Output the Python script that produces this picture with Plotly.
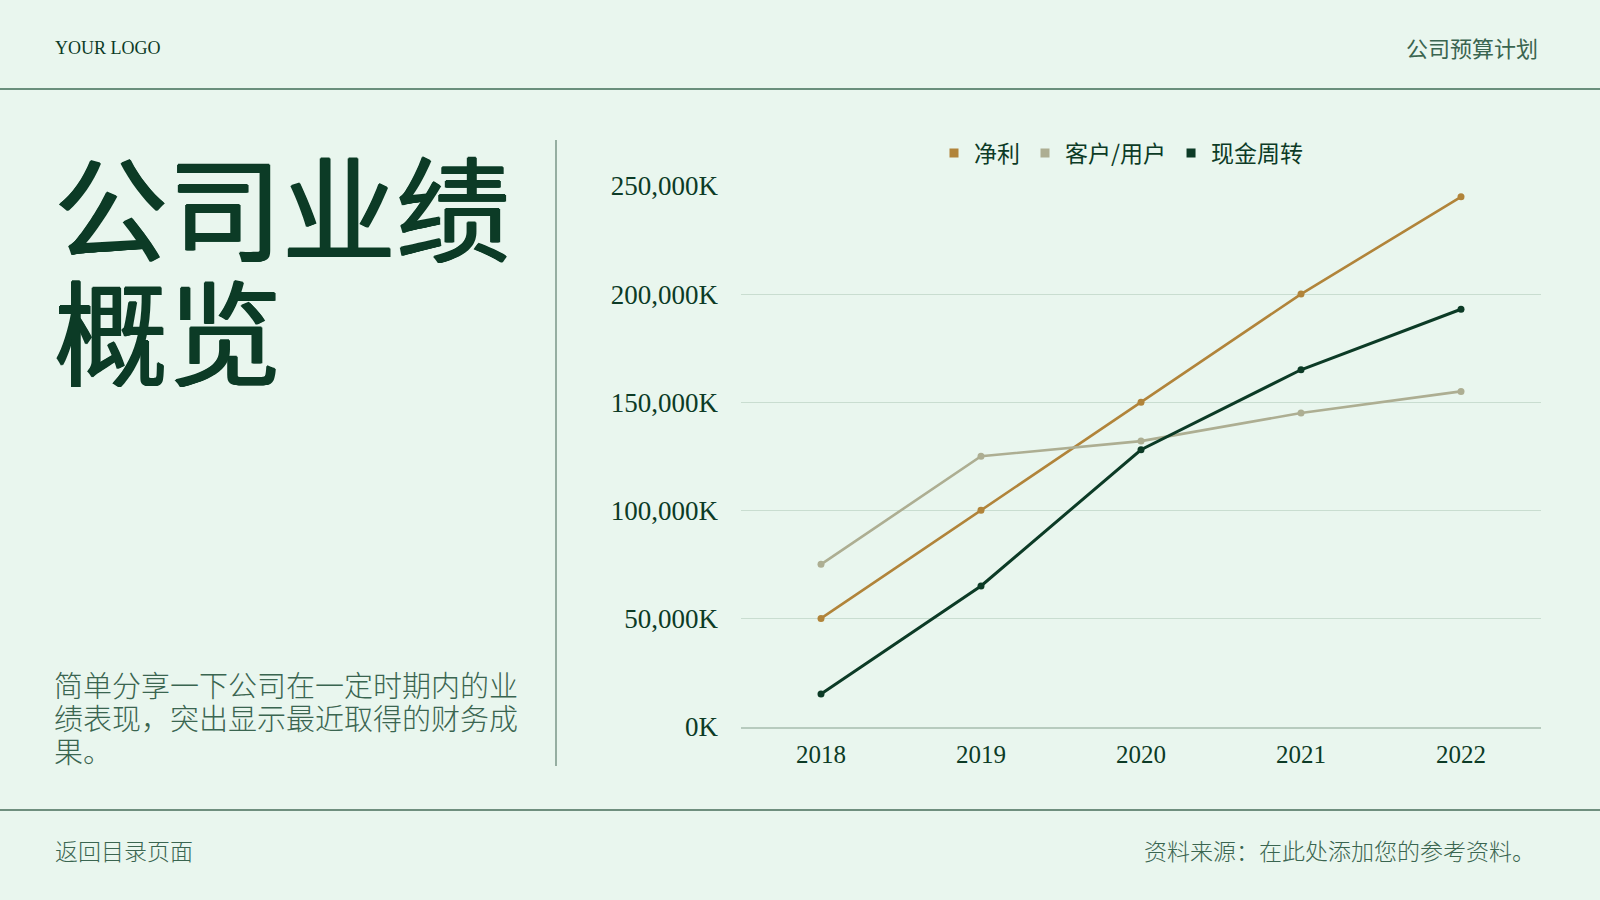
import plotly.graph_objects as go

# chart data
years = ["2018", "2019", "2020", "2021", "2022"]
net_profit = [50000, 100000, 150000, 200000, 245000]
customers = [75000, 125000, 132000, 145000, 155000]
cash_flow = [15000, 65000, 128000, 165000, 193000]

series_names = ["净利", "客户/用户", "现金周转"]
series_colors = ["#B1843A", "#ADAE92", "#0C3B26"]
series_widths = [2.6, 2.6, 3]

y_ticks = [0, 50000, 100000, 150000, 200000, 250000]
y_tick_labels = ["0K", "50,000K", "100,000K", "150,000K", "200,000K", "250,000K"]

title_lines = ["公司业绩", "概览"]
desc_lines = ["简单分享一下公司在一定时期内的业",
              "绩表现，突出显示最近取得的财务成",
              "果。"]

W, H = 1600, 900
BG = "#E9F6EE"
DARK = "#0C3B26"
TEXT = "#3A6550"
CJK = "Noto Sans CJK SC"
SERIF = "Liberation Serif"

# slight outline to give the heading a medium stroke weight
HEAVY = ", ".join(f"{dx}px {dy}px 0 {DARK}" for dx, dy in
                  [(0.9, 0), (-0.9, 0), (0, 0.9), (0, -0.9)])


def px(x):
    return x / W


def py(y):
    return 1 - y / H


fig = go.Figure()

for name, vals, color, lw in zip(series_names, [net_profit, customers, cash_flow],
                                 series_colors, series_widths):
    fig.add_trace(go.Scatter(
        x=years, y=vals, mode="lines+markers", name=name,
        line=dict(color=color, width=lw),
        marker=dict(color=color, size=7),
        showlegend=False,
    ))

# legend entries shown as small squares
for name, color in zip(series_names, series_colors):
    fig.add_trace(go.Scatter(
        x=[None], y=[None], mode="markers", name=name,
        marker=dict(color=color, size=9, symbol="square"),
    ))

annotations = []

annotations.append(dict(text="YOUR LOGO", x=px(53), y=py(48), xanchor="left", yanchor="middle",
                        font=dict(family=SERIF, size=18, color=DARK)))
annotations.append(dict(text="公司预算计划", x=px(1540), y=py(47), xanchor="right", yanchor="middle",
                        font=dict(family=CJK, size=22, color=TEXT)))

for i, line in enumerate(title_lines):
    annotations.append(dict(text=line, x=px(52), y=py(203 + i * 124), xanchor="left", yanchor="middle",
                            height=120,
                            font=dict(family=CJK, size=114, color=DARK, shadow=HEAVY)))

for i, line in enumerate(desc_lines):
    annotations.append(dict(text=line, x=px(52), y=py(684 + i * 33), xanchor="left", yanchor="middle",
                            height=32,
                            font=dict(family=CJK, size=29, color=TEXT, weight=300)))

annotations.append(dict(text="返回目录页面", x=px(53), y=py(850), xanchor="left", yanchor="middle",
                        font=dict(family=CJK, size=23, color=TEXT, weight=300)))
annotations.append(dict(text="资料来源：在此处添加您的参考资料。", x=px(1537), y=py(850),
                        xanchor="right", yanchor="middle",
                        font=dict(family=CJK, size=23, color=TEXT, weight=300)))

for a in annotations:
    a.update(xref="paper", yref="paper", showarrow=False)

shapes = [
    dict(type="line", xref="paper", yref="paper", x0=0, x1=1, y0=py(89), y1=py(89),
         line=dict(color="#3F6C56", width=1.5)),
    dict(type="line", xref="paper", yref="paper", x0=0, x1=1, y0=py(810), y1=py(810),
         line=dict(color="#6F8F7E", width=2)),
    dict(type="line", xref="paper", yref="paper", x0=px(556), x1=px(556), y0=py(140), y1=py(766),
         line=dict(color="#5E7F6E", width=1.2)),
]

fig.update_layout(
    width=W, height=H,
    margin=dict(l=0, r=0, t=0, b=0, pad=0, autoexpand=False),
    paper_bgcolor=BG, plot_bgcolor=BG,
    annotations=annotations,
    shapes=shapes,
    legend=dict(orientation="h", x=px(934), y=py(153), xanchor="left", yanchor="middle",
                font=dict(family=CJK, size=23, color=DARK), bgcolor="rgba(0,0,0,0)",
                itemclick=False),
    xaxis=dict(domain=[px(741), px(1541)], range=[-0.5, 4.5], type="category",
               showgrid=False, zeroline=False, showline=True, linecolor="#B7CBBE", linewidth=2,
               tickfont=dict(family=SERIF, size=25, color=DARK), ticks="", ticklabelstandoff=4,
               automargin=False),
    yaxis=dict(domain=[py(726.5), py(186)], range=[0, 250000],
               tickvals=y_ticks, ticktext=y_tick_labels,
               showgrid=True, gridcolor="#C9DDD0", gridwidth=1, zeroline=False, showline=False,
               tickfont=dict(family=SERIF, size=27, color=DARK), ticks="", ticklabelstandoff=22,
               automargin=False),
)

# drop the default page margin so the 1600x900 figure fills the window
fig.write_html("out.html", config={"displayModeBar": False},
               post_script="document.body.style.margin='0';")
